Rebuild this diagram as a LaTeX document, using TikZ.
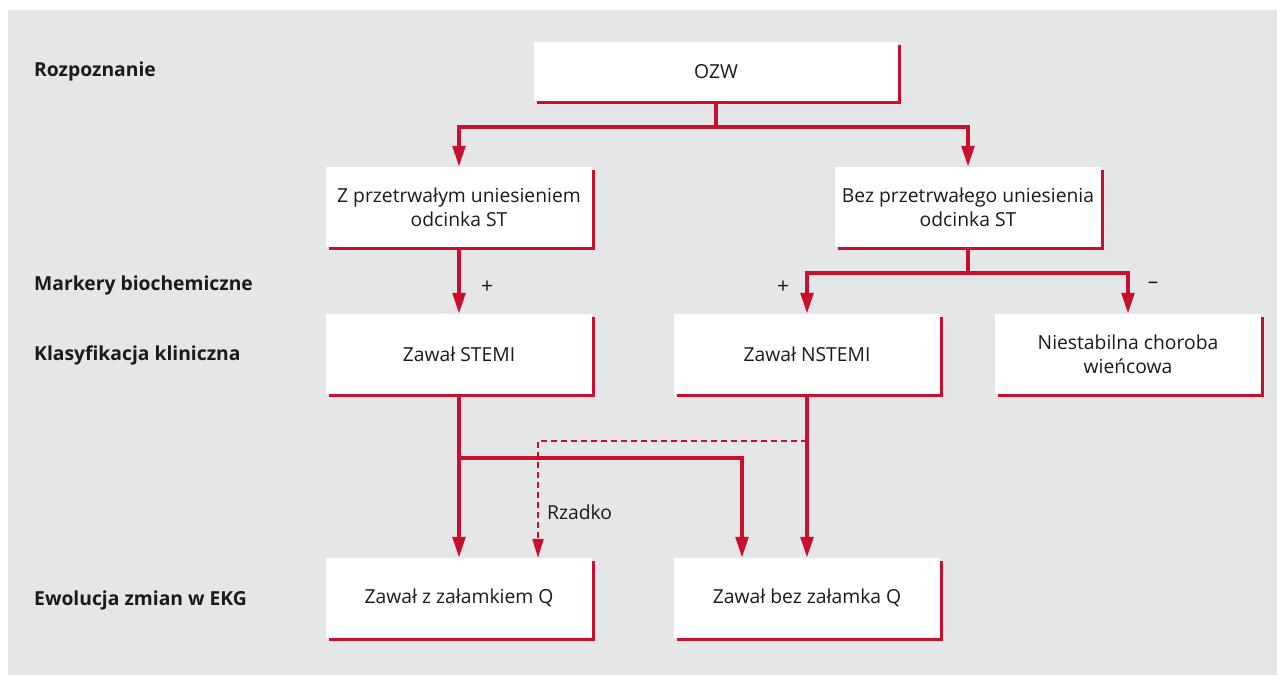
\documentclass[tikz,border=0pt]{standalone}
\usepackage{fontspec}
\setmainfont{Open Sans}
\usetikzlibrary{arrows.meta,shadows}
\definecolor{crim}{HTML}{C8102E}
\definecolor{bg}{HTML}{E5E6E8}
\definecolor{txt}{HTML}{1A1A1A}
\begin{document}
\begin{tikzpicture}[x=1pt,y=-1pt,
  box/.style={fill=white, minimum width=266pt, minimum height=80pt, align=center, inner sep=0pt,
    font=\fontsize{19.3}{24}\selectfont, text=txt,
    drop shadow={shadow xshift=2.5pt, shadow yshift=-2.5pt, fill=crim, opacity=1}},
  lab/.style={anchor=west, font=\bfseries\fontsize{19.3}{22}\selectfont, text=txt, inner sep=0pt},
  sign/.style={font=\fontsize{21}{22}\selectfont, text=txt, inner sep=0pt},
  conn/.style={draw=crim, line width=4pt, -{Triangle[length=21pt,width=12.5pt]}},
  dconn/.style={draw=crim, line width=2pt, dash pattern=on 6pt off 4pt, -{Triangle[length=19pt,width=11pt]}}
]
\useasboundingbox (0,0) rectangle (1277,675);
\fill[bg] (8,10) rectangle (1277,675);

% row labels
\node[lab] (l1) at (34,71) {Rozpoznanie};
\node[lab] (l2) at (34,285) {Markery biochemiczne};
\node[lab] (l3) at (34,355) {Klasyfikacja kliniczna};
\node[lab] (l4) at (34,600) {Ewolucja zmian w EKG};

% boxes
\node[box, minimum width=364pt, minimum height=59pt] (ozw) at (716,71.5) {OZW};
\node[box] (st) at (459,207) {Z przetrwałym uniesieniem\\odcinka ST};
\node[box] (nst) at (968,207) {Bez przetrwałego uniesienia\\odcinka ST};
\node[box] (stemi) at (459,354) {Zawał STEMI};
\node[box] (nstemi) at (807,354) {Zawał NSTEMI};
\node[box] (unst) at (1128,354) {Niestabilna choroba\\wieńcowa};
\node[box] (qw) at (459,598) {Zawał z załamkiem Q};
\node[box] (nq) at (807,598) {Zawał bez załamka Q};

% junctions
\coordinate (j1) at (716,127);
\coordinate (j2) at (968,273);
\coordinate (j3) at (742,458);
\coordinate (d2) at (538,441);

% connectors
\draw[conn] (ozw.south) -- (ozw.south |- j1) -| (st.north);
\draw[conn] (ozw.south |- j1) -| (nst.north);
\draw[conn] (st.south) -- (stemi.north);
\draw[conn] (nst.south) -- (nst.south |- j2) -| (nstemi.north);
\draw[conn] (nst.south |- j2) -| (unst.north);
\draw[dconn] (nstemi.south |- d2) -- (d2) -- (d2 |- qw.north);
\draw[conn] (stemi.south) -- (qw.north);
\draw[conn] (stemi.south |- j3) -- (j3) -- (j3 |- nq.north);
\draw[conn] (nstemi.south) -- (nq.north);

% signs and label
\node[sign] (p1) at (487,287) {+};
\node[sign] (p2) at (783,287) {+};
\node[sign] (m1) at (1153,285) {–};
\node[font=\fontsize{19.3}{22}\selectfont, text=txt, inner sep=0pt, anchor=west] (rz) at (547,512) {Rzadko};
\end{tikzpicture}
\end{document}
